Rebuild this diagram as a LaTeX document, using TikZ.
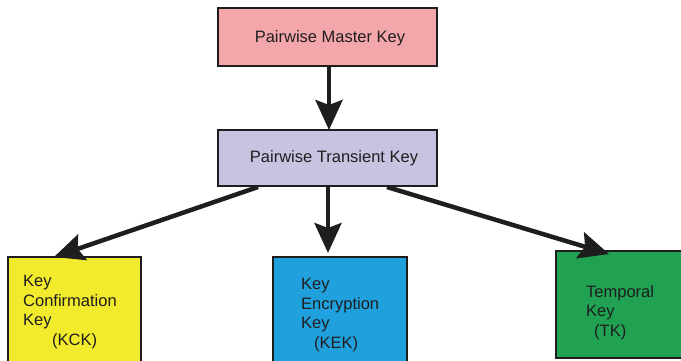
\documentclass[tikz,border=0pt]{standalone}
\usepackage{fontspec}
\setmainfont{Liberation Sans}
\usetikzlibrary{arrows.meta,calc}
\definecolor{pmkc}{HTML}{F4A7AA}
\definecolor{ptkc}{HTML}{C6C4E1}
\definecolor{kckc}{HTML}{F2EA2C}
\definecolor{kekc}{HTML}{20A1DD}
\definecolor{tkc}{HTML}{21A152}
\definecolor{linec}{HTML}{1E1E1E}
\begin{document}
\begin{tikzpicture}[x=1pt,y=-1pt,
  keybox/.style={draw=linec,line width=1.8pt,inner sep=0pt,outer sep=0pt,anchor=north west},
  lbl/.style={inner sep=0pt,anchor=north west,align=left,font=\fontsize{16.5}{19.5}\selectfont,text=linec},
  ctr/.style={inner sep=0pt,font=\fontsize{16.5}{19.5}\selectfont,text=linec},
  bigarrow/.style={draw=linec,line width=4.5pt,-{Stealth[length=30pt,width=27pt,inset=5pt]}}]
\useasboundingbox (0,0) rectangle (681,360);
\node[keybox,fill=pmkc,minimum width=219pt,minimum height=58pt] (pmk) at (218,8) {};
\node[ctr] (pmkt) at (330,38) {Pairwise Master Key};
\node[keybox,fill=ptkc,minimum width=219pt,minimum height=56pt] (ptk) at (218,130) {};
\node[ctr] (ptkt) at (334,158) {Pairwise Transient Key};
\node[keybox,fill=kckc,minimum width=133pt,minimum height=120pt] (kck) at (8,257) {};
\node[keybox,fill=kekc,minimum width=134pt,minimum height=120pt] (kek) at (273,257) {};
\node[keybox,fill=tkc,minimum width=140pt,minimum height=107pt] (tk) at (556,251) {};
\node[lbl] (kckt) at (23,275) {Key\\Confirmation\\Key\\\hspace*{29pt}(KCK)};
\node[lbl] (kekt) at (301,278) {Key\\Encryption\\Key\\\hspace*{13pt}(KEK)};
\node[lbl] (tkt) at (586,285) {Temporal\\Key\\\hspace*{8pt}(TK)};
\draw[bigarrow] ($(pmk.south west)+(111,0)$) -- ($(ptk.north west)+(111,0)$);
\draw[bigarrow] ($(ptk.south west)+(40,1)$) -- ($(kck.north west)+(46,0)$);
\draw[bigarrow] ($(ptk.south west)+(110,0)$) -- ($(kek.north west)+(55,-4)$);
\draw[bigarrow] ($(ptk.south west)+(169,1)$) -- ($(tk.north west)+(53,3)$);
\end{tikzpicture}
\end{document}
